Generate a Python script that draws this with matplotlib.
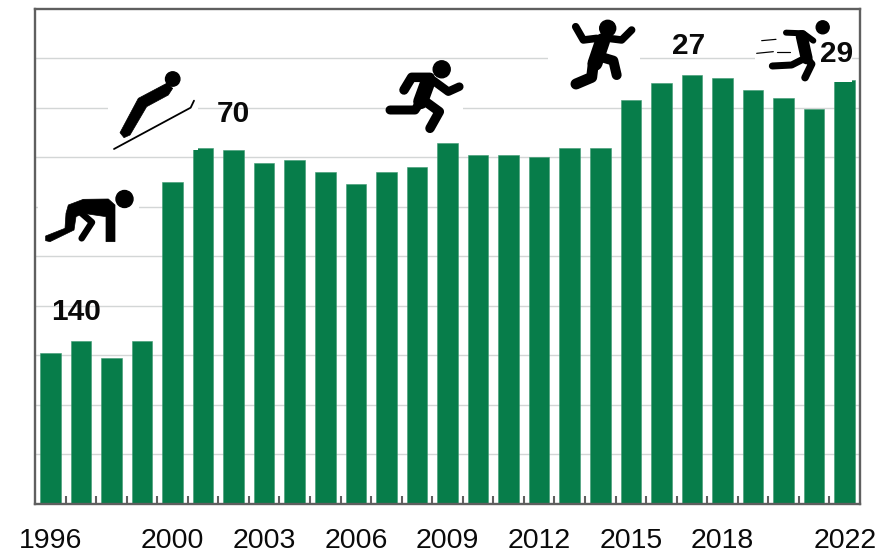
import matplotlib
matplotlib.use("Agg")
import matplotlib.pyplot as plt
from matplotlib.patches import Rectangle, Circle, Polygon

plt.rcParams['font.family'] = ['Liberation Sans', 'DejaVu Sans']

years = list(range(1996, 2023))
values = [30.5, 32.9, 29.5, 32.9, 65.0, 71.9, 71.5, 68.9, 69.5, 67.0, 64.6, 67.0, 68.0, 73.0,
          70.5, 70.5, 70.0, 71.9, 71.9, 81.6, 85.1, 86.6, 86.1, 83.6, 82.1, 79.7, 85.6]
tick_years = [1996, 2000, 2003, 2006, 2009, 2012, 2015, 2018, 2022]
annotations = [("140", 76, 312.5), ("70", 233, 113.5), ("27", 689, 45.5), ("29", 837, 54.5)]

W, H = 892, 553
L, R, T, B = 35, 860, 9, 503.5
GREEN = "#077D4A"
GREY = "#5F5F5F"
GRID = "#D3D6D6"

fig = plt.figure(figsize=(W / 100, H / 100), dpi=100, facecolor="white")
ax = fig.add_axes([L / W, 1 - B / H, (R - L) / W, (B - T) / H])
ax.bar(years, values, width=0.67, color=GREEN, edgecolor="#3F9A72", linewidth=0.4, zorder=3)
ax.set_xlim(1995.5, 2022.5)
ax.set_ylim(0, 100)
ax.set_yticks(range(10, 100, 10))
ax.set_yticklabels([])
ax.tick_params(axis="y", length=0)
ax.yaxis.grid(True, color=GRID, linewidth=1.0, zorder=1)
ax.set_axisbelow(True)
ax.set_xticks(tick_years)
ax.set_xticklabels([str(y) for y in tick_years], fontsize=20.5, color="#0A0A0A")
ax.tick_params(axis="x", which="major", length=0, pad=18)
ax.set_xticks([y + 0.5 for y in years[:-1]], minor=True)
ax.tick_params(axis="x", which="minor", direction="in", length=6, width=1.5, color=GREY, zorder=4)
for s in ax.spines.values():
    s.set_color(GREY)
    s.set_linewidth(1.7)
    s.set_zorder(6)

ov = fig.add_axes([0, 0, 1, 1], facecolor="none")
ov.set_xlim(0, W)
ov.set_ylim(H, 0)
ov.axis("off")


def limb(points, width):
    xs, ys = zip(*points)
    ov.plot(xs, ys, color="black", lw=width * 0.72, solid_capstyle="round",
            solid_joinstyle="round", zorder=5)


def head(x, y, r):
    ov.add_patch(Circle((x, y), r, color="black", zorder=5))


def z(points, ox, oy):
    return [(ox + a / 3, oy + b / 3) for a, b in points]


def blob(points, ox=0, oy=0):
    ov.add_patch(Polygon(z(points, ox, oy), closed=True, color="black", lw=0.5, zorder=5))


# white boxes behind icons
for x0, y0, x1, y1 in [(38, 188, 139, 246), (108, 70, 198, 150), (387, 60, 463, 133),
                       (548, 15, 640, 90), (755, 15, 852, 82)]:
    ov.add_patch(Rectangle((x0, y0), x1 - x0, y1 - y0, color="white", lw=0, zorder=2))

# crouching starter
head(124.5, 199, 8.5)
blob([(198, 640), (205, 615), (250, 598), (325, 597), (345, 615), (345, 725), (318, 725), (318, 650),
      (250, 640), (228, 650), (222, 690), (150, 725), (137, 722), (137, 708), (195, 685)])
limb(z([(245, 640), (276, 667), (245, 715)], 0, 0), 6.5)

# ski jumper
head(172.7, 79, 7.2)
blob([(415, 295), (500, 250), (518, 265), (505, 285), (440, 320), (390, 405), (372, 413), (360, 398)])
limb(z([(342, 447), (572, 323), (582, 302)], 0, 0), 1.8)

# runner
head(441.7, 69.3, 8.5)
limb(z([(150, 82), (95, 82), (72, 120)], 380, 50), 9.5)
limb(z([(160, 92), (205, 125), (238, 110)], 380, 50), 8.5)
limb(z([(145, 92), (122, 155)], 380, 50), 15)
limb(z([(125, 150), (105, 180), (30, 180)], 380, 50), 9)
limb(z([(130, 150), (178, 185), (150, 235)], 380, 50), 9.5)

# jumper
head(607.7, 28.3, 8)
limb(z([(107, 80), (130, 120), (170, 115)], 540, 0), 7.5)
limb(z([(275, 90), (245, 120), (205, 115)], 540, 0), 7.5)
limb(z([(188, 122), (165, 190)], 540, 0), 15)
limb(z([(160, 190), (155, 232), (108, 252)], 540, 0), 11)
limb(z([(180, 170), (220, 182), (230, 225)], 540, 0), 10)

# sprinter with speed lines
head(822.7, 27.3, 6.5)
limb(z([(738, 98), (790, 100), (820, 122)], 540, 0), 6)
limb(z([(785, 108), (800, 175)], 540, 0), 12)
limb(z([(800, 172), (755, 195), (697, 198)], 540, 0), 7)
limb(z([(800, 175), (815, 192), (795, 233)], 540, 0), 7.5)
limb(z([(665, 122), (708, 118)], 540, 0), 1.2)
limb(z([(650, 160), (700, 155)], 540, 0), 1.2)
limb(z([(710, 155), (750, 155)], 540, 0), 1.2)

for text, x, y in annotations:
    ov.text(x, y, text, ha="center", va="center", fontsize=21.5, fontweight="bold",
            color="#0A0A0A", zorder=7)

fig.savefig("out.png", dpi=100)
